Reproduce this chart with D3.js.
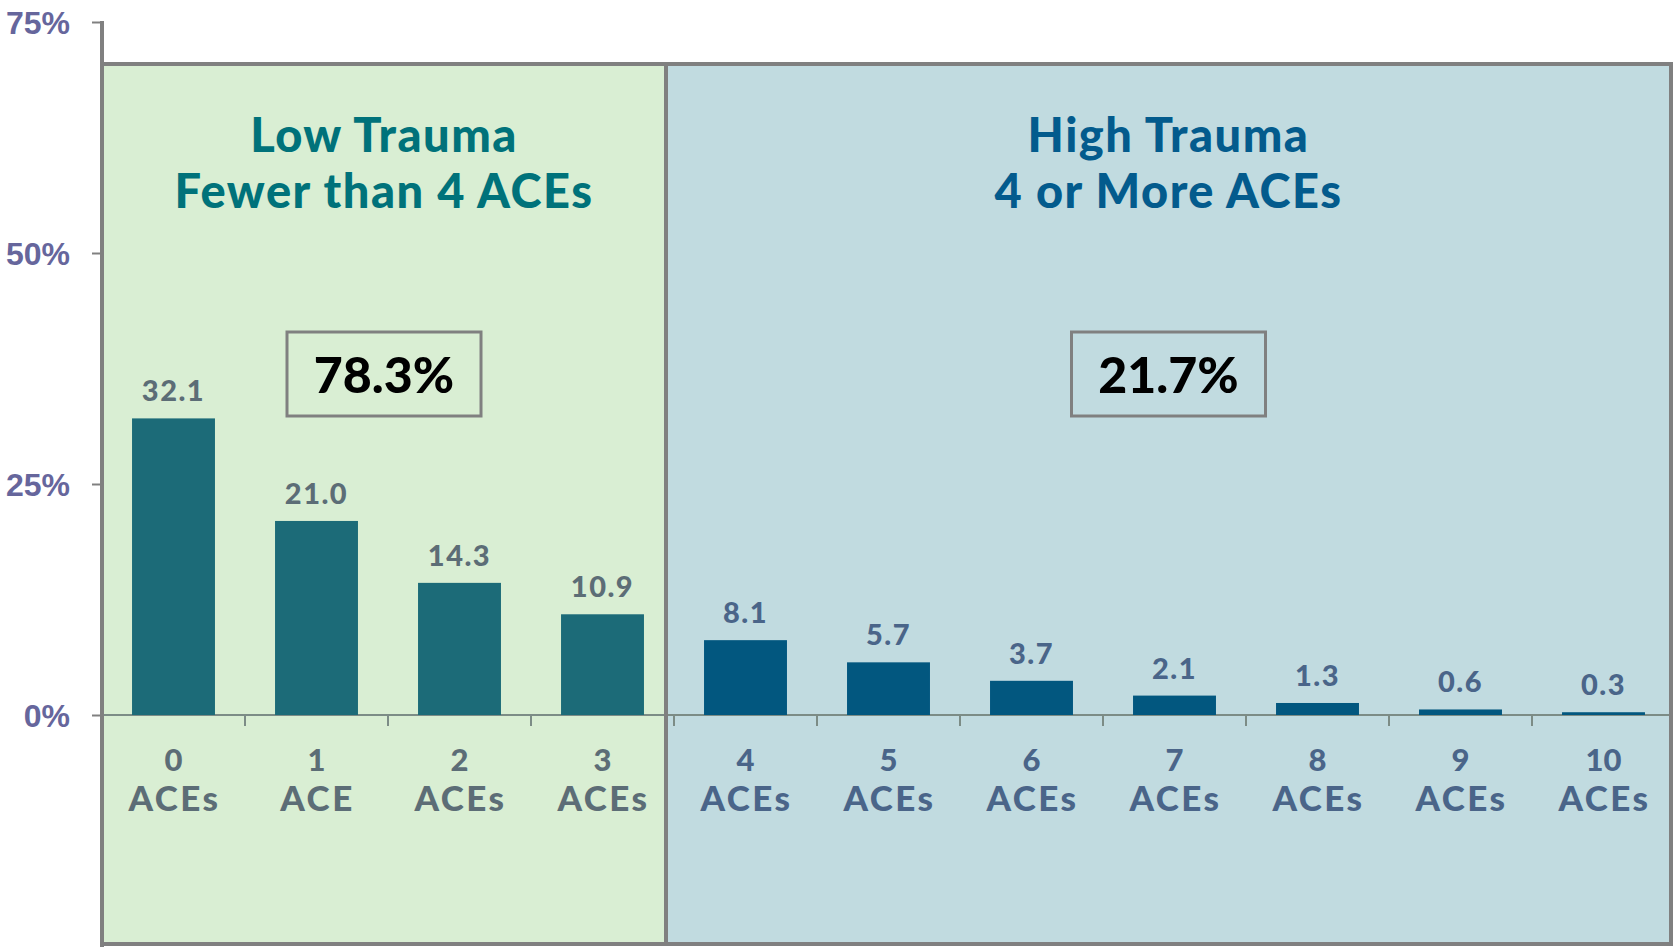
<!DOCTYPE html>
<html>
<head>
<meta charset="utf-8">
<script src="https://d3js.org/d3.v7.min.js"></script>
<style>
  html, body { margin: 0; padding: 0; background: #fff; }
  svg { display: block; font-family: Lato, "Open Sans", sans-serif; font-weight: 900; }
</style>
</head>
<body>
<div id="chart"></div>
<script>
// ACE counts and share of respondents (%)
const aceCounts = ['0', '1', '2', '3', '4', '5', '6', '7', '8', '9', '10'];
const aceUnits = ['ACEs', 'ACE', 'ACEs', 'ACEs', 'ACEs', 'ACEs', 'ACEs', 'ACEs', 'ACEs', 'ACEs', 'ACEs'];
const sharePct = [32.1, 21.0, 14.3, 10.9, 8.1, 5.7, 3.7, 2.1, 1.3, 0.6, 0.3];
const yTicks = [0, 25, 50, 75];

const groupTitles = ['Low Trauma', 'High Trauma'];
const groupSubtitles = ['Fewer than 4 ACEs', '4 or More ACEs'];
const groupTotals = ['78.3%', '21.7%'];
const groupFirstIndex = [0, 4];

const W = 1674, H = 947;
const colors = {
    lowFill: '#d9eed3', highFill: '#c1dbe0',
    lowBar: '#1c6b78', highBar: '#02577f',
    lowTitle: '#00727a', highTitle: '#035b8d',
    lowLabel: '#5c6d76', highLabel: '#4a6589',
    tick: '#66669c', frame: '#808080'
};

const svg = d3.select('#chart').append('svg')
    .attr('width', W)
    .attr('height', H);

const x = d3.scaleBand()
    .domain(aceCounts)
    .range([102, 1675])
    .paddingInner(0.42)
    .paddingOuter(0.21);

const y = d3.scaleLinear()
    .domain([0, 75])
    .range([715, 22]);

const isHigh = i => i >= groupFirstIndex[1];

// panels
const panelTop = 64, panelBottom = 944, panelLeft = 102, panelSplit = 666, panelRight = 1671;
const panels = [
    { x0: panelLeft, x1: panelSplit, fill: colors.lowFill, title: colors.lowTitle },
    { x0: panelSplit, x1: panelRight, fill: colors.highFill, title: colors.highTitle }
];

svg.selectAll('.panel')
    .data(panels)
    .enter()
    .append('rect')
    .attr('class', 'panel')
    .attr('x', d => d.x0)
    .attr('y', panelTop)
    .attr('width', d => d.x1 - d.x0)
    .attr('height', panelBottom - panelTop)
    .attr('fill', d => d.fill);

// y axis
const yAxis = svg.append('g')
    .attr('transform', `translate(${panelLeft},0)`)
    .call(d3.axisLeft(y)
        .tickValues(yTicks)
        .tickFormat(d => d + '%')
        .tickSize(10)
        .tickPadding(22));
yAxis.select('.domain').remove();
yAxis.selectAll('line').attr('stroke', colors.frame).attr('stroke-width', 2);
yAxis.selectAll('text')
    .attr('fill', colors.tick)
    .style('font-size', '32px')
    .style('font-weight', 900)
    .attr('dy', '0.36em');

svg.append('line')
    .attr('x1', panelLeft).attr('x2', panelLeft)
    .attr('y1', y(75) - 1).attr('y2', H)
    .attr('stroke', colors.frame)
    .attr('stroke-width', 4);

// x baseline and ticks between categories
svg.append('line')
    .attr('x1', panelLeft).attr('x2', panelRight)
    .attr('y1', y(0)).attr('y2', y(0))
    .attr('stroke', '#7c8c86')
    .attr('stroke-width', 2);

const boundaries = aceCounts.slice(1).map(c => x(c) - x.step() * x.paddingInner() / 2);
svg.selectAll('.xtick')
    .data(boundaries)
    .enter()
    .append('line')
    .attr('class', 'xtick')
    .attr('x1', d => d).attr('x2', d => d)
    .attr('y1', y(0)).attr('y2', y(0) + 11)
    .attr('stroke', '#7c8c86')
    .attr('stroke-width', 2);

// bars
svg.selectAll('.bar')
    .data(sharePct)
    .enter()
    .append('rect')
    .attr('class', 'bar')
    .attr('x', (d, i) => x(aceCounts[i]))
    .attr('y', d => y(d))
    .attr('width', x.bandwidth())
    .attr('height', d => y(0) - y(d))
    .attr('fill', (d, i) => isHigh(i) ? colors.highBar : colors.lowBar);

// value labels
svg.selectAll('.val')
    .data(sharePct)
    .enter()
    .append('text')
    .attr('class', 'val')
    .attr('x', (d, i) => x(aceCounts[i]) + x.bandwidth() / 2)
    .attr('y', d => y(d) - 17)
    .attr('text-anchor', 'middle')
    .attr('fill', (d, i) => isHigh(i) ? colors.highLabel : colors.lowLabel)
    .style('font-size', '29px')
    .style('letter-spacing', '1.5px')
    .text(d => d.toFixed(1));

// category labels
const cat = svg.selectAll('.cat')
    .data(aceCounts)
    .enter()
    .append('text')
    .attr('class', 'cat')
    .attr('text-anchor', 'middle')
    .attr('fill', (d, i) => isHigh(i) ? colors.highLabel : colors.lowLabel)
    .style('font-size', '31px');
cat.append('tspan')
    .attr('x', d => x(d) + x.bandwidth() / 2)
    .attr('y', 771)
    .text(d => d);
cat.append('tspan')
    .attr('x', d => x(d) + x.bandwidth() / 2 + 1)
    .attr('y', 811)
    .style('font-size', '35px')
    .style('letter-spacing', '2.5px')
    .text((d, i) => aceUnits[i]);

// titles and total boxes
panels.forEach((p, g) => {
    const cx = (p.x0 + p.x1) / 2;
    svg.append('text')
        .attr('x', cx).attr('y', 152)
        .attr('text-anchor', 'middle')
        .attr('fill', p.title)
        .style('font-size', '47px')
        .style('letter-spacing', '1.5px')
        .text(groupTitles[g]);
    svg.append('text')
        .attr('x', cx).attr('y', 208)
        .attr('text-anchor', 'middle')
        .attr('fill', p.title)
        .style('font-size', '47px')
        .style('letter-spacing', '1.5px')
        .text(groupSubtitles[g]);
    svg.append('rect')
        .attr('x', cx - 97).attr('y', 332)
        .attr('width', 194).attr('height', 84)
        .attr('fill', 'none')
        .attr('stroke', colors.frame)
        .attr('stroke-width', 3);
    svg.append('text')
        .attr('x', cx).attr('y', 393)
        .attr('text-anchor', 'middle')
        .attr('fill', '#000')
        .style('font-size', '50px')
        .text(groupTotals[g]);
});

// panel frames
svg.selectAll('.frame')
    .data(panels)
    .enter()
    .append('rect')
    .attr('class', 'frame')
    .attr('x', d => d.x0)
    .attr('y', panelTop)
    .attr('width', d => d.x1 - d.x0)
    .attr('height', panelBottom - panelTop)
    .attr('fill', 'none')
    .attr('stroke', colors.frame)
    .attr('stroke-width', 4);
</script>
</body>
</html>
